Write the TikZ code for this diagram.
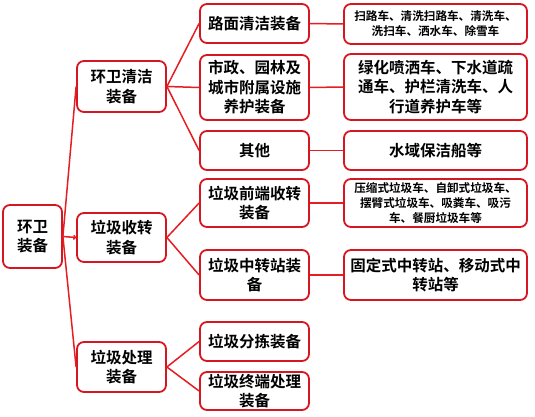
\documentclass[tikz,border=0pt]{standalone}
\usepackage{fontspec}
\setmainfont{Noto Sans CJK SC}[BoldFont={Noto Sans CJK SC Bold}]
\usetikzlibrary{arrows.meta}
\definecolor{boxred}{RGB}{214,22,32}
\definecolor{linered}{RGB}{228,30,34}
\tikzset{
  box/.style={draw=boxred, line width=1.8pt, rounded corners=7pt, fill=white,
    align=center, inner sep=0pt, font=\bfseries\fontsize{15.5}{19.5}\selectfont},
  smallbox/.style={box, font=\bfseries\fontsize{11.6}{15}\selectfont},
  conn/.style={draw=linered, line width=1.5pt},
}
\begin{document}
\begin{tikzpicture}[x=1pt,y=-1pt]
\useasboundingbox (0,0) rectangle (535,417);
% root
\node[box, minimum width=59, minimum height=63, font=\bfseries\fontsize{15.5}{18.5}\selectfont] (root) at (32.5,236.5) {环卫\\装备};
% level 1
\node[box, minimum width=89, minimum height=51] (A) at (121.5,86.5) {环卫清洁\\装备};
\node[box, minimum width=89, minimum height=49] (B) at (121.5,237.5) {垃圾收转\\装备};
\node[box, minimum width=89, minimum height=50] (C) at (121.5,367) {垃圾处理\\装备};
% level 2
\node[box, minimum width=109, minimum height=39] (a1) at (254.5,23.5) {路面清洁装备};
\node[box, minimum width=109, minimum height=65] (a2) at (254.5,87.5) {市政、园林及\\城市附属设施\\养护装备};
\node[box, minimum width=109, minimum height=39] (a3) at (254.5,150.5) {其他};
\node[box, minimum width=109, minimum height=48] (b1) at (254.5,203) {垃圾前端收转\\装备};
\node[box, minimum width=109, minimum height=50] (b2) at (254.5,275) {垃圾中转站装\\备};
\node[box, minimum width=109, minimum height=39] (c1) at (254.5,341.5) {垃圾分拣装备};
\node[box, minimum width=109, minimum height=38] (c2) at (254.5,391) {垃圾终端处理\\装备};
% level 3
\node[smallbox, minimum width=183, minimum height=40] (d1) at (435.5,24) {扫路车、清洗扫路车、清洗车、\\洗扫车、洒水车、除雪车};
\node[box, minimum width=183, minimum height=66] (d2) at (435.5,87) {绿化喷洒车、下水道疏\\通车、护栏清洗车、人\\行道养护车等};
\node[box, minimum width=183, minimum height=39] (d3) at (435.5,150.5) {水域保洁船等};
\node[smallbox, minimum width=183, minimum height=48] (d4) at (435.5,203) {压缩式垃圾车、自卸式垃圾车、\\摆臂式垃圾车、吸粪车、吸污\\车、餐厨垃圾车等};
\node[box, minimum width=183, minimum height=50] (d5) at (435.5,275) {固定式中转站、移动式中\\转站等};
% connectors
\draw[conn] (root.east) -- (A.west);
\draw[conn, -{To[length=3pt,width=5pt]}] (root.east) -- (B.west);
\draw[conn] (root.east) -- (C.west);
\draw[conn] (A.east) -- (a1.west);
\draw[conn] (A.east) -- (a2.west);
\draw[conn] (A.east) -- (a3.west);
\draw[conn] (B.east) -- (b1.west);
\draw[conn] (B.east) -- (b2.west);
\draw[conn] (C.east) -- (c1.west);
\draw[conn] (C.east) -- (c2.west);
\draw[conn] (a1.east) -- (d1.west);
\draw[conn] (a2.east) -- (d2.west);
\draw[conn] (a3.east) -- (d3.west);
\draw[conn] (b1.east) -- (d4.west);
\draw[conn] (b2.east) -- (d5.west);
\end{tikzpicture}
\end{document}
